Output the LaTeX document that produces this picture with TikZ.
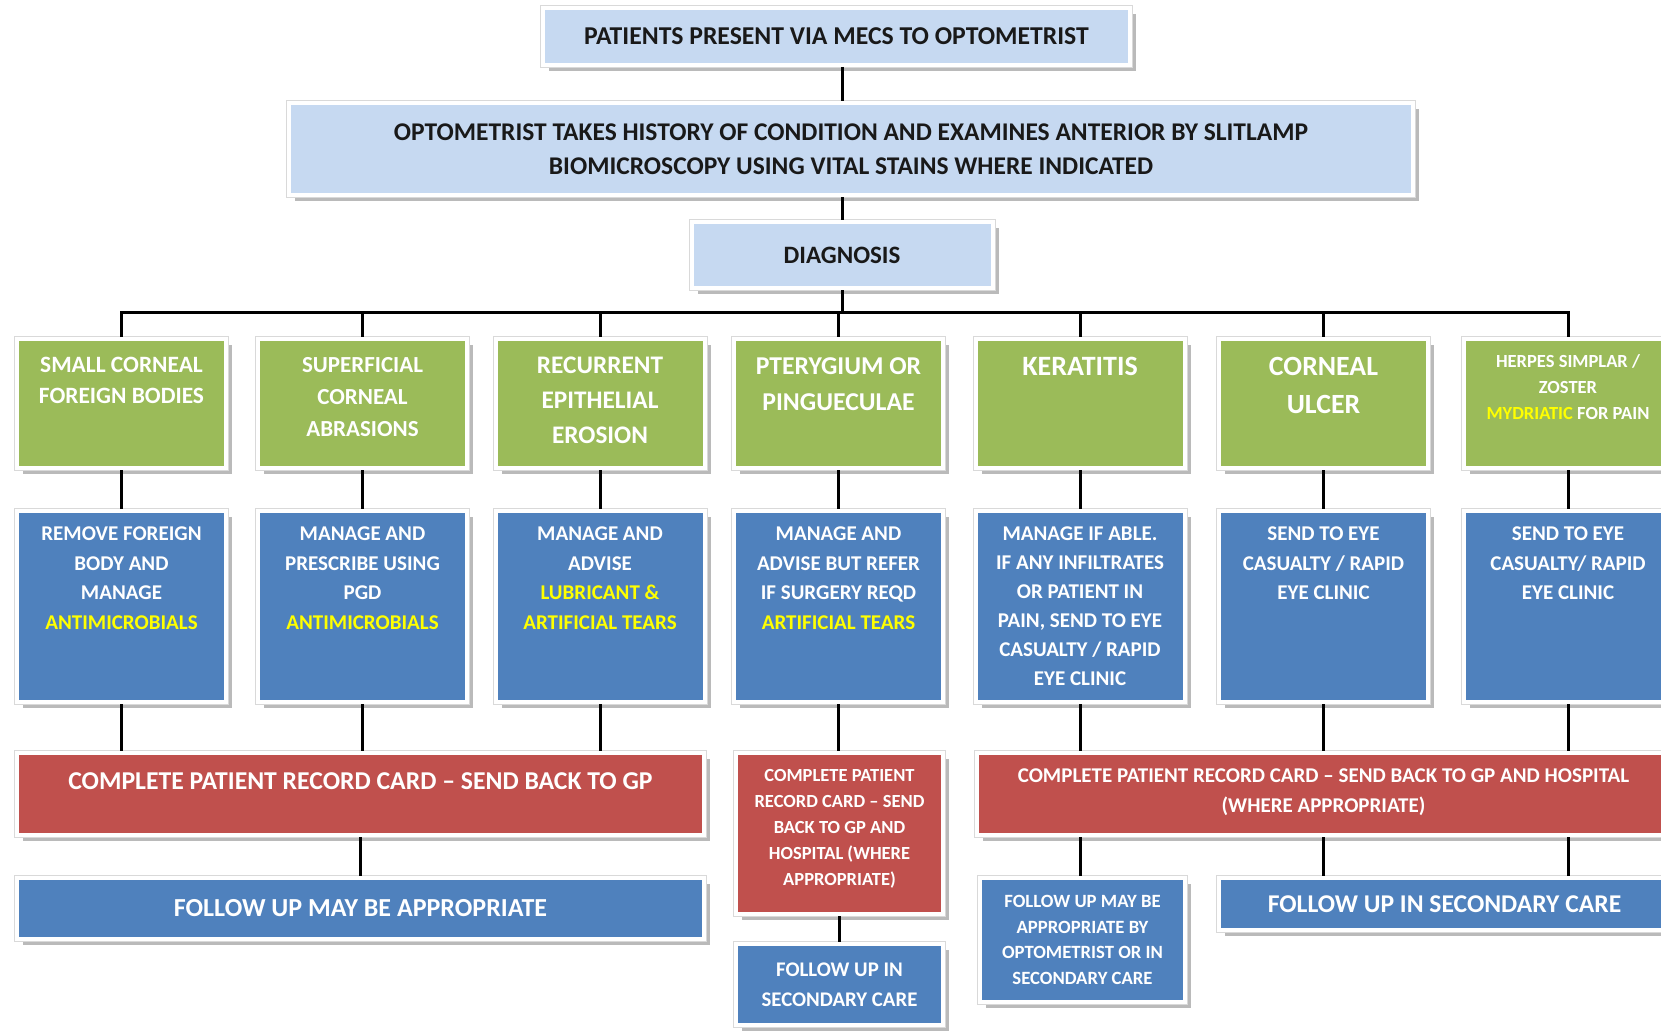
\documentclass[tikz,border=0pt]{standalone}
\usepackage{fontspec}
\setmainfont{Carlito}
\usetikzlibrary{positioning,shadows}
\definecolor{palebox}{HTML}{C6D9F1}
\definecolor{greenbox}{HTML}{9BBB59}
\definecolor{bluebox}{HTML}{4F81BD}
\definecolor{redbox}{HTML}{C0504D}
\definecolor{hilite}{HTML}{FFFF00}
\newcommand{\yel}[1]{\textcolor{hilite}{#1}}
\begin{document}
\begin{tikzpicture}
[x=1pt,y=-1pt,
  boxdecorate/.style={rectangle,inner sep=0pt,draw=white,line width=4pt,
    drop shadow={shadow xshift=6pt,shadow yshift=-6pt,opacity=.45,fill=black!60},
    preaction={draw=black!15,line width=6pt}},
  topdecorate/.style={boxdecorate,fill=palebox,text=black!90,align=center},
  greendecorate/.style={boxdecorate,fill=greenbox,minimum width=209pt,minimum height=129pt},
  bluedecorate/.style={boxdecorate,fill=bluebox,minimum width=209pt,minimum height=191pt},
  reddecorate/.style={boxdecorate,fill=redbox},
  followdecorate/.style={boxdecorate,fill=bluebox,text=white,align=center},
  textdecorate/.style 2 args={inner sep=0pt,text=white,align=center,
    font=\bfseries\fontsize{#1}{#2}\selectfont},
  linkdecorate/.style={line width=3pt,black}]
\useasboundingbox (0,0) rectangle (1661,1030);
\clip (0,0) rectangle (1661,1030);
\fill[white] (0,0) rectangle (1661,1030);
%% top of the chart
\node[topdecorate,minimum width=587pt,minimum height=57pt,
  font=\bfseries\fontsize{25.7}{29}\selectfont] (t1) at (836.5,36.5)
  {PATIENTS PRESENT VIA MECS TO OPTOMETRIST};
\node[topdecorate,minimum width=1124pt,minimum height=92pt,
  font=\bfseries\fontsize{25.5}{34}\selectfont] (t2) at (851,149)
  {OPTOMETRIST TAKES HISTORY OF CONDITION AND EXAMINES ANTERIOR BY SLITLAMP\\
   BIOMICROSCOPY USING VITAL STAINS WHERE INDICATED};
\node[topdecorate,minimum width=301pt,minimum height=66pt,
  font=\bfseries\fontsize{25}{29}\selectfont] (t3) at (842,255) {DIAGNOSIS};
%% diagnosis and action columns
\foreach \n/\x in {1/121.5, 2/362.5, 3/600, 4/838.5, 5/1080, 6/1323.5, 7/1568} {
  \node[greendecorate] (g\n) at (\x,403.5) {};
  \node[bluedecorate] (b\n) at (\x,606.5) {};
}
\node[textdecorate={23.4}{31},below=20pt of g1.north] (g1text)
  {SMALL CORNEAL\\FOREIGN BODIES};
\node[textdecorate={23}{32},below=20pt of g2.north] (g2text)
  {SUPERFICIAL\\CORNEAL\\ABRASIONS};
\node[textdecorate={25.3}{35},below=20pt of g3.north] (g3text)
  {RECURRENT\\EPITHELIAL\\EROSION};
\node[textdecorate={25.7}{36},below=20pt of g4.north] (g4text)
  {PTERYGIUM OR\\PINGUECULAE};
\node[textdecorate={28}{36},below=20pt of g5.north] (g5text) {KERATITIS};
\node[textdecorate={27.8}{38},below=20pt of g6.north] (g6text) {CORNEAL\\ULCER};
\node[textdecorate={18.5}{26},below=17pt of g7.north] (g7text)
  {HERPES SIMPLAR /\\ZOSTER\\\yel{MYDRIATIC} FOR PAIN};
\node[textdecorate={21}{29.5},below=18pt of b1.north] (b1text)
  {REMOVE FOREIGN\\BODY AND\\MANAGE\\\yel{ANTIMICROBIALS}};
\node[textdecorate={21}{29.5},below=18pt of b2.north] (b2text)
  {MANAGE AND\\PRESCRIBE USING\\PGD\\\yel{ANTIMICROBIALS}};
\node[textdecorate={21}{29.5},below=18pt of b3.north] (b3text)
  {MANAGE AND\\ADVISE\\\yel{LUBRICANT \&}\\\yel{ARTIFICIAL TEARS}};
\node[textdecorate={21}{29.5},below=18pt of b4.north] (b4text)
  {MANAGE AND\\ADVISE BUT REFER\\IF SURGERY REQD\\\yel{ARTIFICIAL TEARS}};
\node[textdecorate={21}{29},below=18pt of b5.north] (b5text)
  {MANAGE IF ABLE.\\IF ANY INFILTRATES\\OR PATIENT IN\\PAIN, SEND TO EYE\\
   CASUALTY / RAPID\\EYE CLINIC};
\node[textdecorate={21}{29.5},below=18pt of b6.north] (b6text)
  {SEND TO EYE\\CASUALTY / RAPID\\EYE CLINIC};
\node[textdecorate={21}{29.5},below=18pt of b7.north] (b7text)
  {SEND TO EYE\\CASUALTY/ RAPID\\EYE CLINIC};
%% record cards
\node[reddecorate,minimum width=687pt,minimum height=82pt] (r1) at (360.5,794) {};
\node[reddecorate,minimum width=207pt,minimum height=161pt] (r2) at (839.5,833.5) {};
\node[reddecorate,minimum width=693pt,minimum height=82pt] (r3) at (1323.5,794) {};
\node[textdecorate={25.7}{29},below=21pt of r1.north] (r1text)
  {COMPLETE PATIENT RECORD CARD -- SEND BACK TO GP};
\node[textdecorate={18.5}{26},below=18pt of r2.north] (r2text)
  {COMPLETE PATIENT\\RECORD CARD -- SEND\\BACK TO GP AND\\HOSPITAL (WHERE\\APPROPRIATE)};
\node[textdecorate={21}{29.5},below=18pt of r3.north] (r3text)
  {COMPLETE PATIENT RECORD CARD -- SEND BACK TO GP AND HOSPITAL\\(WHERE APPROPRIATE)};
%% follow up
\node[followdecorate,minimum width=687pt,minimum height=61pt,
  font=\bfseries\fontsize{26}{29}\selectfont] (f1) at (360.5,908.5)
  {FOLLOW UP MAY BE APPROPRIATE};
\node[followdecorate,minimum width=207pt,minimum height=81pt,
  font=\bfseries\fontsize{20.8}{29.5}\selectfont] (f2) at (839.5,984.5)
  {FOLLOW UP IN\\SECONDARY CARE};
\node[followdecorate,minimum width=205pt,minimum height=124pt,
  font=\bfseries\fontsize{18.7}{25.5}\selectfont] (f3) at (1082.5,940)
  {FOLLOW UP MAY BE\\APPROPRIATE BY\\OPTOMETRIST OR IN\\SECONDARY CARE};
\node[followdecorate,minimum width=451pt,minimum height=52pt,
  font=\bfseries\fontsize{25.6}{29}\selectfont] (f4) at (1444.5,904)
  {FOLLOW UP IN SECONDARY CARE};
%% connectors
\coordinate (bar) at (0,312);
\draw[linkdecorate] (t3.north |- t1.south) -- (t3.north |- t2.north);
\draw[linkdecorate] (t3.north |- t2.south) -- (t3.north);
\draw[linkdecorate] (t3.south) -- (t3.south |- bar);
\draw[linkdecorate] (g1.north) -- (g1.north |- bar) -- (g7.north |- bar) -- (g7.north);
\foreach \n in {2,...,6} {
  \draw[linkdecorate] (g\n.north |- bar) -- (g\n.north);
}
\foreach \n in {1,...,7} {
  \draw[linkdecorate] (g\n.south) -- (b\n.north);
}
\foreach \n in {1,2,3} {
  \draw[linkdecorate] (b\n.south) -- (b\n.south |- r1.north);
}
\draw[linkdecorate] (b4.south) -- (b4.south |- r2.north);
\foreach \n in {5,6,7} {
  \draw[linkdecorate] (b\n.south) -- (b\n.south |- r3.north);
}
\draw[linkdecorate] (r1.south) -- (f1.north);
\draw[linkdecorate] (r2.south) -- (f2.north);
\draw[linkdecorate] (r3.south -| b5) -- (f3.north -| b5);
\draw[linkdecorate] (r3.south -| b6) -- (f4.north -| b6);
\draw[linkdecorate] (r3.south -| b7) -- (f4.north -| b7);
\end{tikzpicture}
\end{document}
